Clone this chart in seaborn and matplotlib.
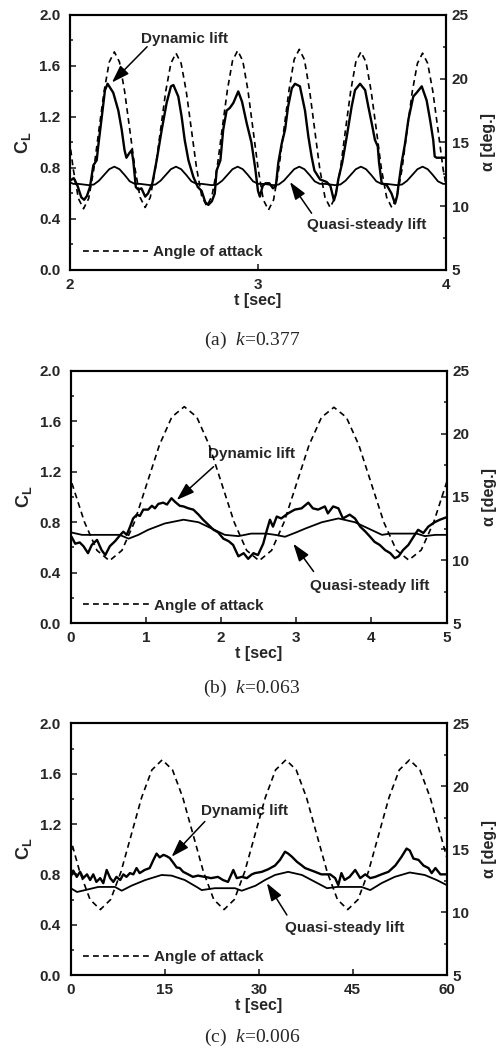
import numpy as np
import matplotlib
matplotlib.use('Agg')
import matplotlib.pyplot as plt
from matplotlib.ticker import MultipleLocator
import seaborn as sns

# ---------------- panel (a)  k = 0.377 ----------------
# angle of attack / quasi-steady lift read every 1/12 cycle
t_alpha_a = np.linspace(1.99, 4.012, 75)
alpha_a = [16.0, 12.9, 10.6, 9.8, 10.6, 12.9, 16.0, 19.0, 21.3, 22.1, 21.3, 19.0,
           16.0, 13.0, 10.7, 9.9, 10.7, 13.0, 16.0, 19.0, 21.2, 22.0, 21.2, 19.0,
           16.0, 13.0, 10.8, 10.0, 10.8, 13.0, 16.1, 19.1, 21.4, 22.2, 21.4, 19.1,
           16.0, 12.9, 10.5, 9.7, 10.5, 12.9, 16.0, 19.1, 21.5, 22.3, 21.5, 19.1,
           16.0, 12.9, 10.7, 9.9, 10.7, 12.9, 16.0, 19.0, 21.3, 22.1, 21.3, 19.0,
           16.0, 12.9, 10.7, 9.9, 10.7, 12.9, 16.0, 19.0, 21.2, 22.0, 21.2, 19.0,
           16.0, 12.9, 10.7]
quasi_a = [0.695, 0.675, 0.675, 0.67, 0.665, 0.67, 0.70, 0.745, 0.79, 0.81, 0.79, 0.745] * 6 \
    + [0.695, 0.675, 0.675]
t_dyn_a = [2.00, 2.02, 2.04, 2.06, 2.075, 2.09, 2.106, 2.124, 2.142, 2.15, 2.169, 2.186, 2.20,
           2.23, 2.257, 2.275, 2.29, 2.30, 2.315, 2.328, 2.337, 2.35, 2.363, 2.38, 2.40, 2.415,
           2.438, 2.461, 2.488, 2.514, 2.537, 2.55, 2.576, 2.594, 2.61, 2.63, 2.656, 2.68, 2.70,
           2.72, 2.736, 2.755, 2.77, 2.78, 2.80, 2.815, 2.833, 2.85, 2.869, 2.895, 2.915, 2.94,
           2.965, 2.985, 3.00, 3.01, 3.025, 3.04, 3.06, 3.08, 3.095, 3.108, 3.126, 3.144, 3.16,
           3.18, 3.197, 3.223, 3.25, 3.268, 3.285, 3.30, 3.33, 3.365, 3.385, 3.404, 3.415, 3.427,
           3.448, 3.472, 3.498, 3.516, 3.543, 3.57, 3.587, 3.605, 3.622, 3.637, 3.644, 3.658,
           3.685, 3.71, 3.729, 3.74, 3.746, 3.764, 3.782, 3.80, 3.826, 3.844, 3.871, 3.897,
           3.915, 3.932, 3.94, 3.95, 4.00]
dyn_a = [0.70, 0.72, 0.66, 0.57, 0.55, 0.58, 0.65, 0.82, 0.86, 0.97, 1.20, 1.41, 1.46,
         1.39, 1.25, 1.10, 0.94, 0.88, 0.915, 0.94, 0.85, 0.65, 0.63, 0.64, 0.575, 0.60,
         0.68, 0.86, 1.10, 1.31, 1.44, 1.45, 1.36, 1.20, 1.02, 0.86, 0.73, 0.65, 0.62,
         0.53, 0.51, 0.54, 0.60, 0.78, 0.86, 1.10, 1.25, 1.27, 1.31, 1.40, 1.32, 1.15,
         1.00, 0.80, 0.62, 0.575, 0.66, 0.68, 0.68, 0.64, 0.66, 0.84, 0.99, 1.10, 1.28,
         1.425, 1.46, 1.44, 1.25, 1.045, 0.89, 0.78, 0.71, 0.69, 0.66, 0.545, 0.60, 0.71,
         0.84, 1.045, 1.28, 1.41, 1.46, 1.41, 1.28, 1.15, 1.02, 0.97, 0.84, 0.68,
         0.665, 0.60, 0.52, 0.58, 0.65, 0.84, 0.99, 1.18, 1.36, 1.39, 1.44, 1.33,
         1.18, 1.02, 0.89, 0.88, 0.88]

# ---------------- panel (b)  k = 0.063 ----------------
t_alpha_b = np.linspace(-0.148, 5.159, 33)
alpha_b = [19.1, 16.05, 13.0, 10.77, 9.95, 10.77, 13.0, 16.05, 19.1, 21.33, 22.15, 21.33,
           19.1, 16.05, 13.0, 10.77, 9.95, 10.77, 13.0, 16.05, 19.1, 21.3, 22.1, 21.3,
           19.1, 16.05, 13.0, 10.8, 10.0, 10.8, 13.0, 16.05, 19.1]
t_quasi_b = [0.0, 0.15, 0.3, 0.5, 0.65, 0.77, 0.9, 1.03, 1.25, 1.50, 1.70, 1.875, 2.05, 2.23,
             2.4, 2.6, 2.72, 2.85, 3.0, 3.12, 3.34, 3.56, 3.78, 3.96, 4.14, 4.25, 4.6, 4.71,
             4.85, 5.0]
quasi_b = [0.72, 0.70, 0.70, 0.70, 0.70, 0.67, 0.70, 0.74, 0.79, 0.82, 0.80, 0.75, 0.70, 0.69,
           0.71, 0.71, 0.70, 0.685, 0.72, 0.75, 0.80, 0.83, 0.80, 0.75, 0.70, 0.71, 0.71, 0.69,
           0.70, 0.70]
t_dyn_b = [0.01, 0.06, 0.12, 0.17, 0.23, 0.28, 0.35, 0.41, 0.46, 0.52, 0.59, 0.66, 0.70, 0.745,
           0.79, 0.83, 0.88, 0.92, 0.965, 1.03, 1.08, 1.12, 1.165, 1.23, 1.28, 1.34, 1.39, 1.45,
           1.50, 1.565, 1.63, 1.70, 1.76, 1.83, 1.90, 1.96, 2.03, 2.10, 2.16, 2.23, 2.30, 2.36,
           2.43, 2.49, 2.56, 2.61, 2.65, 2.69, 2.74, 2.80, 2.89, 2.98, 3.07, 3.16, 3.22, 3.29,
           3.38, 3.42, 3.49, 3.56, 3.62, 3.71, 3.78, 3.85, 3.92, 3.98, 4.04, 4.11, 4.18, 4.25,
           4.31, 4.36, 4.42, 4.49, 4.56, 4.62, 4.69, 4.755, 4.84, 4.91, 5.0]
dyn_b = [0.686, 0.63, 0.64, 0.61, 0.555, 0.62, 0.66, 0.58, 0.54, 0.61, 0.65, 0.70, 0.725, 0.70,
         0.765, 0.83, 0.86, 0.85, 0.90, 0.90, 0.93, 0.91, 0.945, 0.955, 0.94, 0.99, 0.96, 0.93,
         0.925, 0.91, 0.90, 0.86, 0.82, 0.78, 0.74, 0.72, 0.67, 0.65, 0.62, 0.53, 0.555, 0.51,
         0.555, 0.54, 0.63, 0.74, 0.82, 0.765, 0.845, 0.83, 0.87, 0.90, 0.91, 0.955, 0.91, 0.90,
         0.925, 0.87, 0.925, 0.91, 0.83, 0.86, 0.83, 0.765, 0.725, 0.686, 0.645, 0.62, 0.58,
         0.555, 0.515, 0.53, 0.58, 0.62, 0.686, 0.74, 0.715, 0.765, 0.80, 0.82, 0.84]

# ---------------- panel (c)  k = 0.006 ----------------
t_alpha_c = np.linspace(-1.85, 60.66, 39)
alpha_c = [19.1, 16.15, 13.2, 11.0, 10.2, 11.0, 13.2, 16.15, 19.1, 21.3, 22.1, 21.3] * 3 \
    + [19.1, 16.15, 13.2]
t_quasi_c = [0.0, 1.0, 2.3, 4.4, 7.07, 8.14, 9.7, 11.9, 14.5, 16.1, 18.2, 20.1, 20.9, 23.0,
             26.2, 27.3, 29.5, 31.0, 32.6, 34.7, 36.9, 39.0, 40.9, 42.5, 46.4, 47.8, 49.6,
             51.7, 54.1, 56.5, 58.4, 60.0]
quasi_c = [0.69, 0.66, 0.675, 0.70, 0.70, 0.67, 0.71, 0.755, 0.795, 0.79, 0.755, 0.70, 0.675,
           0.69, 0.69, 0.67, 0.71, 0.755, 0.795, 0.82, 0.795, 0.74, 0.69, 0.70, 0.70, 0.675,
           0.73, 0.78, 0.815, 0.795, 0.755, 0.715]
t_dyn_c = [0.0, 0.4, 0.96, 1.5, 2.0, 2.6, 3.1, 3.6, 4.1, 4.7, 5.2, 5.74, 6.3, 6.8, 7.3, 7.9,
           8.4, 8.9, 9.45, 10.0, 10.5, 11.0, 11.8, 12.6, 13.2, 13.7, 14.2, 14.8, 15.3, 15.8,
           16.4, 16.9, 17.4, 17.95, 18.75, 19.5, 20.3, 21.4, 22.4, 23.5, 24.3, 25.1, 25.95,
           26.5, 27.3, 28.1, 28.9, 29.4, 30.5, 31.5, 32.6, 33.4, 34.2, 34.7, 35.3, 36.1, 36.9,
           37.4, 38.2, 39.0, 40.0, 41.4, 42.2, 42.7, 43.2, 43.7, 44.5, 45.4, 46.2, 47.0, 47.8,
           48.6, 49.6, 50.7, 51.8, 52.8, 53.6, 54.1, 54.7, 55.5, 56.3, 57.1, 57.6, 58.2, 59.0,
           60.0]
dyn_c = [0.78, 0.83, 0.78, 0.82, 0.77, 0.80, 0.755, 0.80, 0.74, 0.77, 0.73, 0.835, 0.77, 0.74,
         0.78, 0.755, 0.80, 0.78, 0.81, 0.80, 0.85, 0.81, 0.835, 0.85, 0.915, 0.965, 0.935,
         0.955, 0.945, 0.93, 0.89, 0.855, 0.85, 0.82, 0.80, 0.78, 0.79, 0.78, 0.77, 0.78,
         0.755, 0.74, 0.835, 0.77, 0.78, 0.77, 0.80, 0.81, 0.82, 0.84, 0.87, 0.915, 0.98,
         0.965, 0.94, 0.90, 0.87, 0.85, 0.835, 0.82, 0.80, 0.80, 0.77, 0.715, 0.81, 0.755,
         0.78, 0.835, 0.77, 0.80, 0.77, 0.78, 0.80, 0.82, 0.87, 0.94, 1.005, 0.99, 0.925,
         0.915, 0.87, 0.85, 0.81, 0.85, 0.80, 0.80]

captions = ['(a)  $\\mathit{k}$=0.377', '(b)  $\\mathit{k}$=0.063', '(c)  $\\mathit{k}$=0.006']

sns.set_theme(style='ticks')
plt.rcParams['font.family'] = ['Liberation Sans', 'DejaVu Sans']
plt.rcParams['font.weight'] = 'bold'
plt.rcParams['mathtext.fontset'] = 'custom'
plt.rcParams['mathtext.rm'] = 'Liberation Sans:bold'
plt.rcParams['mathtext.it'] = 'Liberation Serif:italic:weight=normal'
plt.rcParams['axes.linewidth'] = 1.5
plt.rcParams['axes.edgecolor'] = 'black'

panels = [
    dict(rect=[0.1389, 0.7429, 0.7460, 0.2429], xlim=(2, 4), xstep=1,
         alpha=(t_alpha_a, alpha_a), quasi=(t_alpha_a, quasi_a), dyn=(t_dyn_a, dyn_a),
         dyn_txt=(2.61, 1.81), dyn_arr=((2.41, 1.75), (2.223, 1.47)),
         qs_txt=(3.58, 0.353), qs_arr=((3.285, 0.445), (3.17, 0.69)), cap_y=340),
    dict(rect=[0.1403, 0.4064, 0.7460, 0.2406], xlim=(0, 5), xstep=1,
         alpha=(t_alpha_b, alpha_b), quasi=(t_quasi_b, quasi_b), dyn=(t_dyn_b, dyn_b),
         dyn_txt=(2.41, 1.34), dyn_arr=((1.90, 1.24), (1.41, 0.976)),
         qs_txt=(3.98, 0.295), qs_arr=((3.23, 0.41), (2.96, 0.63)), cap_y=688),
    dict(rect=[0.1403, 0.0714, 0.7460, 0.2397], xlim=(0, 60), xstep=15,
         alpha=(t_alpha_c, alpha_c), quasi=(t_quasi_c, quasi_c), dyn=(t_dyn_c, dyn_c),
         dyn_txt=(27.8, 1.30), dyn_arr=((21.4, 1.22), (16.1, 0.94)),
         qs_txt=(43.8, 0.37), qs_arr=((34.5, 0.477), (31.3, 0.73)), cap_y=1037),
]

fig = plt.figure(figsize=(5.04, 10.5), dpi=100)
arrow = dict(arrowstyle='-|>,head_length=0.9,head_width=0.3', lw=1.1, color='black',
             shrinkA=0, shrinkB=0)

for i, p in enumerate(panels):
    ax = fig.add_axes(p['rect'])
    ax2 = ax.twinx()
    sns.lineplot(x=p['dyn'][0], y=p['dyn'][1], ax=ax, color='black', lw=1.7,
                 legend=False, estimator=None)
    sns.lineplot(x=p['quasi'][0], y=p['quasi'][1], ax=ax, color='black', lw=1.3,
                 legend=False, estimator=None)
    sns.lineplot(x=p['alpha'][0], y=p['alpha'][1], ax=ax2, color='black', lw=1.2,
                 linestyle=(0, (3.5, 2.5)), legend=False, estimator=None)

    ax.set_xlim(*p['xlim'])
    ax.set_ylim(0, 2.0)
    ax2.set_ylim(5, 25)
    ax.xaxis.set_major_locator(MultipleLocator(p['xstep']))
    ax.yaxis.set_major_locator(MultipleLocator(0.4))
    ax.yaxis.set_minor_locator(MultipleLocator(0.2))
    ax2.yaxis.set_major_locator(MultipleLocator(5))
    ax2.yaxis.set_minor_locator(MultipleLocator(2.5))
    ax.yaxis.set_major_formatter(plt.FuncFormatter(lambda v, _: f'{v:.1f}'))

    ax.tick_params(axis='x', direction='in', length=4, width=1.2, pad=5.5,
                   labelsize=11, top=False)
    ax.tick_params(axis='y', which='major', direction='in', length=4, width=1.2, pad=7,
                   labelsize=11, right=False)
    ax.tick_params(axis='y', which='minor', direction='in', length=2.5, width=1.2, right=False)
    ax2.tick_params(axis='y', which='major', direction='in', length=4, width=1.2, pad=4,
                    labelsize=11)
    ax2.tick_params(axis='y', which='minor', direction='in', length=2.5, width=1.2)
    for a in (ax, ax2):
        for s in a.spines.values():
            s.set_linewidth(1.5)
            s.set_visible(True)
        a.grid(False)

    ax.set_xlabel('t [sec]', fontsize=11.5, fontweight='bold', labelpad=1)
    ax.set_ylabel('$\\mathrm{C_L}$', fontsize=13, labelpad=4)
    ax2.set_ylabel('\u03b1 [deg.]', fontsize=11.5, fontweight='bold', labelpad=9)

    ax.text(*p['dyn_txt'], 'Dynamic lift', ha='center', va='center', fontsize=11,
            fontweight='bold')
    ax.annotate('', xy=p['dyn_arr'][1], xytext=p['dyn_arr'][0], arrowprops=arrow)
    ax.text(*p['qs_txt'], 'Quasi-steady lift', ha='center', va='center', fontsize=11,
            fontweight='bold')
    ax.annotate('', xy=p['qs_arr'][1], xytext=p['qs_arr'][0], arrowprops=arrow)

    leg = ax2.legend(handles=[ax2.lines[0]], labels=['Angle of attack'], loc='center left',
                     bbox_to_anchor=(0.034, 0.07), frameon=False, borderpad=0,
                     borderaxespad=0, handlelength=4.3, handletextpad=0.3,
                     prop=dict(size=11, weight='bold'))

    fig.text(0.5, 1 - p['cap_y'] / 1050, captions[i], ha='center', va='center',
             fontsize=14, fontfamily='Liberation Serif', fontweight='normal')

fig.savefig('out.png', dpi=100)
